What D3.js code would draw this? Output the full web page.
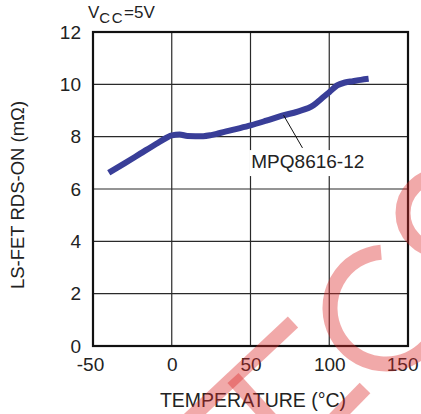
<!DOCTYPE html>
<html><head><meta charset="utf-8">
<script src="https://cdn.jsdelivr.net/npm/d3@7"></script>
<style>
html,body{margin:0;padding:0;background:#fff;}
svg{display:block;font-family:"Liberation Sans",Arial,sans-serif;}
</style></head>
<body>
<svg id="chart" width="421" height="414"></svg>
<script>
// ---- data ----
const temps = [-40,-30,-20,-10,-3,0,5,10,20,25,30,40,50,60,70,80,90,95,100,105,110,115,120,125];
const rdsOn = [6.62,6.98,7.35,7.72,7.97,8.05,8.08,8.03,8.02,8.06,8.13,8.28,8.43,8.61,8.8,8.96,9.2,9.45,9.7,9.96,10.07,10.12,10.17,10.21];
const xTicks = [-50,0,50,100,150];
const yTicks = [0,2,4,6,8,10,12];
const seriesName = "MPQ8616-12";
const leader = [[71,8.82],[83,7.57]];   // annotation leader (data coords)
const labelAt = [50.5,6.8];
const xTitle = "TEMPERATURE (°C)";
const yTitle = "LS-FET RDS-ON  (mΩ)";

// ---- layout ----
const L=93,R=408,T=32,B=346;
const svg=d3.select("#chart");
const x=d3.scaleLinear().domain([-50,150]).range([L,R]);
const y=d3.scaleLinear().domain([0,12]).range([B,T]);

// grid
svg.append("g").selectAll("line").data(xTicks.slice(1,-1)).join("line")
  .attr("x1",d=>x(d)).attr("x2",d=>x(d)).attr("y1",T).attr("y2",B)
  .attr("stroke","#2a2a2a").attr("stroke-width",1.2);
svg.append("g").selectAll("line").data(yTicks.slice(1,-1)).join("line")
  .attr("y1",d=>y(d)).attr("y2",d=>y(d)).attr("x1",L).attr("x2",R)
  .attr("stroke","#2a2a2a").attr("stroke-width",1.2);

// frame
svg.append("rect").attr("x",L).attr("y",T).attr("width",R-L).attr("height",B-T)
  .attr("fill","none").attr("stroke","#111").attr("stroke-width",2.2);

// axes tick labels
const fmt=d=>String(d);
const xAxis=d3.axisBottom(x).tickValues(xTicks).tickSize(0).tickPadding(12).tickFormat(fmt);
const gx=svg.append("g").attr("transform",`translate(0,${B})`).call(xAxis);
gx.select(".domain").remove();
gx.selectAll("text").attr("font-size",19).attr("fill","#222").attr("font-family","Liberation Sans, Arial, sans-serif");
gx.selectAll(".tick").filter(d=>d===150).select("text").attr("text-anchor","end").attr("dx",10);
gx.selectAll(".tick").filter(d=>d===-50).select("text").attr("dx",-3);
const yAxis=d3.axisLeft(y).tickValues(yTicks).tickSize(0).tickPadding(12).tickFormat(fmt);
const gy=svg.append("g").attr("transform",`translate(${L},0)`).call(yAxis);
gy.select(".domain").remove();
gy.selectAll("text").attr("font-size",19).attr("fill","#222").attr("font-family","Liberation Sans, Arial, sans-serif");

// curve
const line=d3.line().x((d,i)=>x(temps[i])).y(d=>y(d)).curve(d3.curveMonotoneX);
svg.append("path").attr("d",line(rdsOn)).attr("fill","none")
  .attr("stroke","#393e98").attr("stroke-width",6).attr("stroke-linecap","butt").attr("stroke-linejoin","round");

// annotation
svg.append("line").attr("x1",x(leader[0][0])).attr("y1",y(leader[0][1]))
  .attr("x2",x(leader[1][0])).attr("y2",y(leader[1][1])).attr("stroke","#111").attr("stroke-width",1);
const lg=svg.append("g");
const bgRect=lg.append("rect").attr("fill","#fff");
const lbl=lg.append("text").attr("x",x(labelAt[0])).attr("y",y(labelAt[1]))
  .attr("font-size",19).attr("fill","#222").text(seriesName);
const bb=lbl.node().getBBox();
bgRect.attr("x",bb.x-2).attr("y",bb.y-1).attr("width",bb.width+4).attr("height",bb.height+5);

// titles
svg.append("text").attr("x",(L+R)/2+2.5).attr("y",407).attr("text-anchor","middle")
  .attr("font-size",19.5).attr("fill","#222").text(xTitle);
svg.append("text").attr("transform",`translate(24,${(T+B)/2+6}) rotate(-90)`).attr("text-anchor","middle")
  .attr("font-size",18.5).attr("fill","#222").text(yTitle);
const vcc=svg.append("text").attr("x",88).attr("y",17.5).attr("fill","#222").attr("font-size",17);
vcc.append("tspan").text("V");
vcc.append("tspan").attr("font-size",15).attr("dy",5).attr("letter-spacing",1.5).text("CC");
vcc.append("tspan").attr("dy",-5).text("=5V");

// watermark (decorative, partial letters visible at the image edge)
const wm=svg.append("g").attr("fill","none").attr("stroke","#dc2828")
  .attr("stroke-opacity",0.4).attr("stroke-width",15).attr("pointer-events","none");
const wmStrokes=[
  [[180,428],[293,322]],
  [[233,378],[282,432]],
  [[322,432],[365,388]]
];
wmStrokes.forEach(s=>wm.append("path").attr("d",d3.line()(s)));
const p1=d3.path(); p1.arc(386,308,56,-95*Math.PI/180,40*Math.PI/180,true);
wm.append("path").attr("d",p1.toString());
const p2=d3.path(); p2.arc(440,213,37,0,2*Math.PI);
wm.append("path").attr("d",p2.toString());
</script>
</body></html>
